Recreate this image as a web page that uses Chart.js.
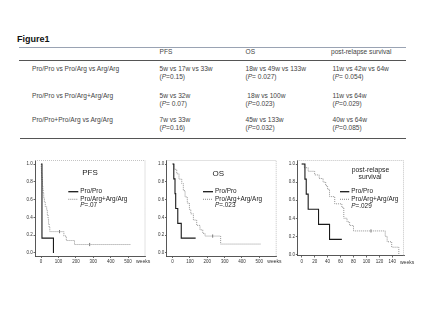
<!DOCTYPE html>
<html><head><meta charset="utf-8">
<script src="https://cdn.jsdelivr.net/npm/chart.js@4.4.0/dist/chart.umd.min.js"></script>
<style>
html,body{margin:0;padding:0;background:#fff;width:425px;height:319px;overflow:hidden;}
#wrap{position:relative;width:425px;height:319px;font-family:"Liberation Sans",Arial,sans-serif;color:#444;}
.t{position:absolute;font-size:6.6px;white-space:pre;line-height:1;margin-top:-3.6px;}
.hl{position:absolute;height:0;}
canvas{position:absolute;}
</style></head><body>
<div id="wrap">
<canvas id="c1" width="140" height="122" style="left:18px;top:152px;width:140px;height:122px"></canvas>
<canvas id="c2" width="140" height="122" style="left:148px;top:152px;width:140px;height:122px"></canvas>
<canvas id="c3" width="147" height="122" style="left:278px;top:152px;width:147px;height:122px"></canvas>
</div>
<script>
// ---------- table data ----------
const figureTitle = 'Figure1';
const tableColumns = ['PFS', 'OS', 'post-relapse survival'];
const tableRows = ['Pro/Pro vs Pro/Arg vs Arg/Arg', 'Pro/Pro vs Pro/Arg+Arg/Arg', 'Pro/Pro+Pro/Arg vs Arg/Arg'];
const pfsMedians = ['5w vs 17w vs 33w', '5w vs 32w', '7w vs 33w'];
const pfsPValues = ['0.15', ' 0.07', '0.16'];
const osMedians = ['18w vs 49w vs 133w', ' 18w vs 100w', '45w vs 133w'];
const osPValues = [' 0.027', '0.023', '0.032'];
const prsMedians = ['11w vs 42w vs 64w', '11w vs 64w', '40w vs 64w'];
const prsPValues = [' 0.054', '0.029', '0.085'];

// ---------- Kaplan-Meier data ----------
const legendLabels = ['Pro/Pro', 'Pro/Arg+Arg/Arg'];
const yTickValues = [0, 0.2, 0.4, 0.6, 0.8, 1.0];
const longXTicks = [0, 100, 200, 300, 400, 500];
const prsXTicks = [0, 20, 40, 60, 80, 100, 120, 140];

const pfsProProWeeks = [0, 5, 71];
const pfsProProSurv = [1, 0.167, 0];
const pfsVarWeeks = [0, 1, 2, 4, 6, 8, 10, 12, 15, 19, 24, 32, 36, 40, 43, 46, 50, 131, 145, 192, 516];
const pfsVarSurv = [1, 0.95, 0.9, 0.86, 0.81, 0.76, 0.71, 0.67, 0.62, 0.57, 0.52, 0.48, 0.43, 0.38, 0.33, 0.29, 0.24, 0.19, 0.14, 0.095, 0.095];
const pfsCensWeeks = [106, 279];
const pfsCensSurv = [0.24, 0.095];
const pfsPText = '=.07';

const osProProWeeks = [0, 7, 14, 18, 30, 50, 133];
const osProProSurv = [1, 0.833, 0.667, 0.5, 0.333, 0.167, 0.167];
const osVarWeeks = [0, 9, 24, 37, 53, 62, 72, 85, 97, 105, 120, 139, 158, 174, 187, 277, 509];
const osVarSurv = [1, 0.94, 0.89, 0.83, 0.78, 0.70, 0.63, 0.56, 0.49, 0.44, 0.37, 0.31, 0.26, 0.22, 0.19, 0.10, 0.10];
const osCensWeeks = [231];
const osCensSurv = [0.19];
const osPText = '=.023';

const prsProProWeeks = [0, 5, 7, 10, 26, 43, 62];
const prsProProSurv = [1, 0.833, 0.667, 0.5, 0.333, 0.167, 0.167];
const prsVarWeeks = [0, 4, 10, 20, 27, 33, 37, 40, 43, 51, 62, 65, 70, 74, 80, 129, 132, 139, 150];
const prsVarSurv = [1, 0.96, 0.92, 0.88, 0.84, 0.80, 0.76, 0.72, 0.64, 0.56, 0.52, 0.40, 0.36, 0.32, 0.26, 0.20, 0.14, 0.08, 0.0];
const prsCensWeeks = [107];
const prsCensSurv = [0.26];
const prsPText = '=.029';

// ---------- table rendering ----------
const wrap = document.getElementById('wrap');
function addText(html, x, y, extra) {
  const d = document.createElement('div');
  d.className = 't';
  d.innerHTML = html;
  d.style.left = x + 'px';
  d.style.top = y + 'px';
  if (extra) Object.assign(d.style, extra);
  wrap.appendChild(d);
}
function addLine(x1, x2, y, color, w) {
  const d = document.createElement('div');
  d.className = 'hl';
  d.style.left = x1 + 'px';
  d.style.width = (x2 - x1) + 'px';
  d.style.top = y + 'px';
  d.style.borderTop = w + 'px solid ' + color;
  wrap.appendChild(d);
}
addText(figureTitle, 17, 39.5, {fontSize: '9px', fontWeight: 'bold', color: '#111', marginTop: '-5px'});
addLine(19, 406, 46.5, '#9aa3b3', 1);
addLine(19, 406, 60, '#555', 0.8);
addLine(20, 406, 138, '#555', 0.8);
const colX = [159.5, 245.5, 331];
tableColumns.forEach((c, i) => addText(c, colX[i], 52.7));
const rowY = [69.3, 96.7, 120.7];
const cols = [[pfsMedians, pfsPValues], [osMedians, osPValues], [prsMedians, prsPValues]];
tableRows.forEach((r, i) => {
  addText(r, 32, rowY[i]);
  cols.forEach((col, j) => {
    addText(col[0][i], colX[j] + (j === 2 ? 1.5 : 0), rowY[i]);
    addText('(<i>P</i>=' + col[1][i] + ')', colX[j] + (j === 2 ? 1.5 : 0), rowY[i] + 8);
  });
});

// ---------- charts ----------
Chart.defaults.font.family = "'Liberation Sans', Arial, sans-serif";
Chart.defaults.color = '#333';

const kmDecor = {
  id: 'kmDecor',
  beforeDatasetsDraw(chart, args, o) {
    const ctx = chart.ctx, a = chart.chartArea;
    ctx.save();
    ctx.strokeStyle = '#b5b5b5';
    ctx.lineWidth = 0.8;
    ctx.setLineDash([1, 1]);
    ctx.beginPath();
    ctx.moveTo(a.left, a.top + 0.5);
    ctx.lineTo(a.right - 0.5, a.top + 0.5);
    ctx.lineTo(a.right - 0.5, a.bottom);
    ctx.stroke();
    ctx.restore();
  },
  afterDraw(chart, args, o) {
    const ctx = chart.ctx;
    ctx.save();
    ctx.fillStyle = '#1a1a1a';
    ctx.textBaseline = 'middle';
    ctx.textAlign = 'center';
    o.titles.forEach(t => {
      ctx.font = t.size + "px 'Liberation Sans', Arial, sans-serif";
      ctx.fillText(t.text, t.x, t.y);
    });
    ctx.textAlign = 'left';
    ctx.font = o.legSize + "px 'Liberation Sans', Arial, sans-serif";
    for (let i = 0; i < 2; i++) {
      const ds = chart.data.datasets[i];
      ctx.strokeStyle = ds.borderColor;
      ctx.lineWidth = i === 0 ? 1.3 : 1.1;
      ctx.setLineDash(ds.borderDash || []);
      ctx.beginPath();
      ctx.moveTo(o.legX, o.legY[i]);
      ctx.lineTo(o.legX + o.lineLen, o.legY[i]);
      ctx.stroke();
      ctx.fillText(ds.label, o.legX + o.lineLen + 2, o.legY[i]);
    }
    ctx.setLineDash([]);
    const px = o.legX + o.lineLen + 2;
    ctx.font = 'italic ' + o.legSize + "px 'Liberation Sans', Arial, sans-serif";
    ctx.fillText('P', px, o.pY);
    const w = ctx.measureText('P').width;
    ctx.font = o.legSize + "px 'Liberation Sans', Arial, sans-serif";
    ctx.fillText(o.pText, px + w, o.pY);
    ctx.font = "5px 'Liberation Sans', Arial, sans-serif";
    ctx.fillStyle = '#333';
    ctx.fillText('weeks', o.weeksX, o.weeksY);
    ctx.restore();
  }
};

function pts(t, s) { return t.map((v, i) => ({x: v, y: s[i]})); }

function makeKM(id, c) {
  return new Chart(document.getElementById(id), {
    type: 'line',
    data: {datasets: [
      {label: legendLabels[0], data: pts(c.t1, c.s1), borderColor: '#1a1a1a', borderWidth: 1.1, stepped: 'before', pointRadius: 0, fill: false},
      {label: legendLabels[1], data: pts(c.t2, c.s2), borderColor: '#939393', borderWidth: 1, borderDash: [1, 1], stepped: 'before', pointRadius: 0, fill: false},
      {label: 'censored', data: pts(c.ct, c.cs), showLine: false, pointStyle: 'line', rotation: 90, pointRadius: 1.6, borderColor: '#555', borderWidth: 0.8}
    ]},
    options: {
      responsive: false, animation: false, devicePixelRatio: 1,
      layout: {padding: {left: 0, top: c.padTop, right: c.padRight, bottom: 0}},
      plugins: {legend: {display: false}, tooltip: {enabled: false}, kmDecor: c.decor},
      scales: {
        x: {
          type: 'linear', min: c.xMin, max: c.xMax,
          afterBuildTicks: s => { s.ticks = c.xTicks.map(v => ({value: v})); },
          afterFit: s => { s.height = c.xH; },
          ticks: {font: {size: 4.5}, padding: 1.5, maxRotation: 0, autoSkip: false, callback: v => String(v)},
          grid: {drawOnChartArea: false, drawTicks: true, tickLength: 2, color: '#444', lineWidth: 0.8},
          border: {color: '#444', width: 0.9}
        },
        y: {
          type: 'linear', min: c.yMin, max: c.yMax,
          afterBuildTicks: s => { s.ticks = yTickValues.map(v => ({value: v})); },
          afterFit: s => { s.width = c.yW; },
          ticks: {font: {size: 4.5}, padding: 0.8, callback: v => Number(v).toFixed(1)},
          grid: {drawOnChartArea: false, drawTicks: true, tickLength: 1.5, color: '#444', lineWidth: 0.8},
          border: {color: '#444', width: 0.9}
        }
      }
    },
    plugins: [kmDecor]
  });
}

makeKM('c1', {
  t1: pfsProProWeeks, s1: pfsProProSurv, t2: pfsVarWeeks, s2: pfsVarSurv, ct: pfsCensWeeks, cs: pfsCensSurv,
  xMin: -35, xMax: 600, xTicks: longXTicks, yMin: -0.034, yMax: 1.045,
  padTop: 8, padRight: 12.5, yW: 17, xH: 18,
  decor: {titles: [{text: 'PFS', x: 72, y: 21, size: 8}], legX: 50.3, lineLen: 10, legY: [39.7, 47.3], pY: 53.3, legSize: 6.4, pText: pfsPText, weeksX: 118, weeksY: 110}
});
makeKM('c2', {
  t1: osProProWeeks, s1: osProProSurv, t2: osVarWeeks, s2: osVarSurv, ct: osCensWeeks, cs: osCensSurv,
  xMin: -35, xMax: 600, xTicks: longXTicks, yMin: -0.034, yMax: 1.045,
  padTop: 8, padRight: 11.3, yW: 18.5, xH: 18,
  decor: {titles: [{text: 'OS', x: 70.3, y: 21.3, size: 8}], legX: 55, lineLen: 10, legY: [39.7, 47.3], pY: 53, legSize: 6.4, pText: osPText, weeksX: 119.3, weeksY: 110}
});
makeKM('c3', {
  t1: prsProProWeeks, s1: prsProProSurv, t2: prsVarWeeks, s2: prsVarSurv, ct: prsCensWeeks, cs: prsCensSurv,
  xMin: -6.8, xMax: 158, xTicks: prsXTicks, yMin: -0.012, yMax: 1.045,
  padTop: 8, padRight: 21, yW: 19.3, xH: 18.5,
  decor: {titles: [{text: 'post-relapse', x: 92.5, y: 18, size: 6.8}, {text: 'survival', x: 92, y: 24.8, size: 6.8}], legX: 62, lineLen: 9.3, legY: [39.7, 47.3], pY: 54, legSize: 6.4, pText: prsPText, weeksX: 122, weeksY: 110.5}
});
</script>
</body></html>
